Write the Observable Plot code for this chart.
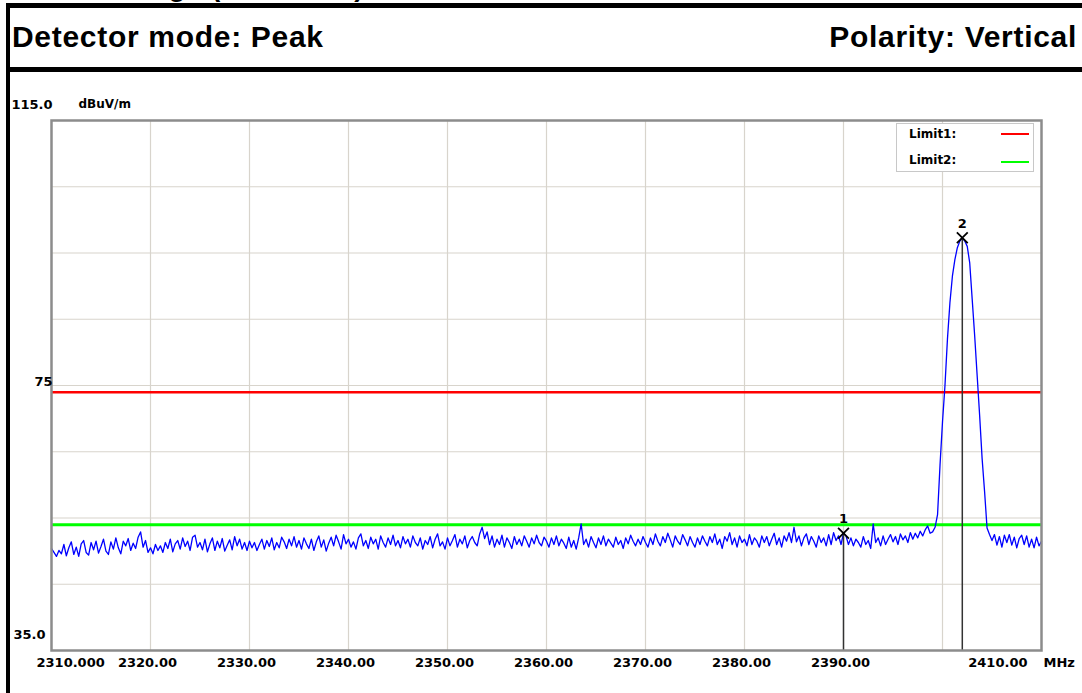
<!DOCTYPE html>
<html>
<head>
<meta charset="utf-8">
<script src="https://cdn.jsdelivr.net/npm/d3@7"></script>
<script src="https://cdn.jsdelivr.net/npm/@observablehq/plot@0.6"></script>
<style>
  html, body { margin: 0; padding: 0; background: #fff; }
  #page { position: relative; width: 1082px; height: 693px; overflow: hidden; background: #fff; font-family: "Liberation Sans", Arial, sans-serif; }
  .hdr { position: absolute; font-weight: bold; font-size: 30px; line-height: 30px; letter-spacing: 0.7px; color: #000; white-space: nowrap; }
  .bar { position: absolute; background: #000; z-index: 5; }
  #chart { position: absolute; left: 0; top: 72px; }
  #legend { position: absolute; left: 896px; top: 123px; width: 136px; height: 47px; border: 1px solid #c8c8c8; background: #fff; z-index: 4;
            font-family: "DejaVu Sans", sans-serif; font-weight: bold; font-size: 12px; }
  #legend .row { position: absolute; left: 12px; }
  #legend .sw { position: absolute; left: 104px; width: 28px; height: 2px; }
</style>
</head>
<body>
<div id="page">
  <div class="hdr" style="left:50px; top:-27px; font-size:28px; line-height:28px;">Band Edge (2402 MHz)</div>
  <div class="hdr" style="left:12px; top:22px;">Detector mode: Peak</div>
  <div class="hdr" style="right:5px; top:22px;">Polarity: Vertical</div>
  <div id="chart"></div>
  <div id="legend"></div>
  <div class="bar" style="left:6px; top:3px; width:1076px; height:5px;"></div>
  <div class="bar" style="left:6px; top:67px; width:1076px; height:5px;"></div>
  <div class="bar" style="left:6px; top:3px; width:4px; height:690px;"></div>
</div>
<script>
// ---- data ----
const freqStart = 2310;      // MHz, first sweep point
const freqStep = 0.25;       // MHz between sweep points
const levels = [
  50.4, 49.8, 49.2, 50.1, 49.6, 51.0, 49.3, 50.5, 51.4, 49.5, 50.6, 49.2, 51.1, 51.6, 49.8, 49.4, 51.3, 50.2, 51.5, 49.7,
  50.7, 51.8, 50.0, 49.5, 51.4, 50.3, 52.0, 50.5, 49.6, 51.5, 50.8, 51.9, 50.1, 51.2, 50.4, 52.1, 52.9, 50.6, 51.6, 49.8,
  50.5, 49.6, 51.0, 50.1, 50.8, 49.8, 51.3, 50.4, 51.8, 49.9, 51.1, 51.6, 50.3, 52.0, 50.7, 51.5, 50.1, 52.1, 52.4, 50.6,
  51.3, 50.2, 51.8, 49.9, 51.1, 52.0, 50.1, 51.5, 50.5, 51.9, 50.0, 50.9, 51.7, 50.2, 52.2, 50.8, 51.8, 50.3, 51.3, 50.1,
  51.5, 50.5, 51.3, 50.1, 51.0, 51.8, 50.3, 51.6, 50.7, 52.0, 50.2, 51.3, 50.5, 52.1, 51.4, 50.4, 51.8, 50.8, 52.2, 50.6,
  51.6, 50.3, 52.0, 51.1, 50.4, 51.8, 50.1, 51.4, 52.3, 50.6, 51.7, 50.0, 51.2, 52.1, 50.8, 52.4, 51.4, 50.3, 52.5, 51.1,
  51.8, 50.6, 51.4, 50.3, 52.0, 52.6, 50.8, 51.6, 50.4, 52.1, 51.1, 51.8, 50.3, 52.3, 51.3, 50.6, 52.0, 51.0, 52.4, 50.8,
  51.6, 50.5, 52.2, 51.1, 51.8, 50.6, 52.3, 51.3, 50.8, 52.0, 50.3, 51.6, 51.0, 52.2, 50.5, 51.8, 52.6, 50.8, 51.4, 50.3,
  52.0, 50.8, 51.6, 52.5, 50.6, 51.8, 51.1, 52.3, 50.5, 51.6, 52.2, 51.3, 50.8, 52.6, 53.6, 51.9, 52.9, 51.0, 52.3, 50.6,
  51.8, 51.0, 52.4, 50.6, 52.0, 51.3, 50.4, 52.2, 51.0, 51.8, 50.8, 52.3, 51.5, 50.6, 52.0, 51.1, 52.4, 51.3, 50.8, 52.1,
  51.5, 50.6, 52.0, 51.0, 52.3, 50.8, 51.8, 51.2, 50.4, 52.1, 50.6, 51.6, 50.3, 52.0, 54.1, 51.0, 51.8, 50.6, 52.2, 51.3,
  50.5, 52.0, 51.0, 52.3, 50.8, 51.8, 51.2, 50.6, 52.1, 51.0, 51.6, 50.4, 52.0, 51.1, 52.4, 51.5, 50.8, 51.8, 51.0, 52.2,
  51.3, 50.6, 52.0, 51.0, 52.6, 51.5, 50.8, 52.2, 51.3, 52.7, 51.7, 50.6, 52.3, 51.5, 51.0, 52.5, 51.7, 50.8, 52.2, 51.3,
  50.6, 52.0, 51.0, 52.3, 51.5, 50.8, 52.2, 51.3, 52.6, 51.0, 51.8, 50.4, 52.2, 51.5, 52.8, 51.0, 52.0, 50.6, 52.3, 51.3,
  51.8, 50.8, 52.5, 51.0, 52.0, 51.5, 50.6, 52.3, 51.3, 52.2, 50.8, 51.8, 52.7, 51.0, 52.0, 50.6, 52.3, 51.5, 52.8, 51.3,
  53.6, 51.4, 52.3, 50.8, 52.0, 52.6, 51.0, 52.2, 51.5, 50.6, 52.3, 51.3, 52.0, 50.8, 52.5, 51.0, 52.8, 51.6, 52.3, 51.0,
  52.7, 52.3, 51.0, 52.0, 50.8, 51.8, 51.3, 50.6, 52.2, 51.0, 51.6, 50.4, 54.1, 51.3, 52.0, 50.8, 52.3, 51.0, 51.8, 52.5,
  51.4, 52.2, 51.0, 52.6, 51.7, 52.3, 51.3, 52.8, 51.8, 52.7, 52.0, 53.0, 52.3, 53.2, 53.8, 52.7, 52.9, 53.6, 55.5, 63.0,
  69.5, 75.0, 82.0, 87.5, 91.5, 94.0, 95.8, 96.8, 97.3, 96.8, 96.0, 93.5, 88.0, 82.5, 76.5, 70.5, 64.0, 59.0, 53.5, 52.5,
  51.6, 52.5, 50.9, 52.2, 50.6, 52.4, 51.3, 52.5, 50.9, 52.1, 50.5, 51.9, 52.4, 51.0, 52.3, 50.6, 51.8, 50.5, 52.1, 50.8,
  51.5
];
const xDomain = [2310, 2410];
const yDomain = [35, 115];
const xGrid = [2320, 2330, 2340, 2350, 2360, 2370, 2380, 2390, 2400];
const yGrid = [45, 55, 65, 75, 85, 95, 105];
const xTickValues = [2320, 2330, 2340, 2350, 2360, 2370, 2380, 2390];
const xTickLabels = ["2320.00", "2330.00", "2340.00", "2350.00", "2360.00", "2370.00", "2380.00", "2390.00"];
const xStartLabel = "2310.000";
const xEndLabel = "2410.00";
const xUnit = "MHz";
const yUnit = "dBuV/m";
const limitNames = ["Limit1:", "Limit2:"];
const limitValues = [74, 54];
const limitColors = ["#ff0000", "#00ff00"];
const markerIds = ["1", "2"];
const markerFreqs = [2390.0, 2402.0];
const markerLevels = [52.7, 97.3];

// ---- build ----
const trace = levels.map((v, i) => ({f: freqStart + i * freqStep, v}));
const markers = markerIds.map((id, i) => ({id, f: markerFreqs[i], v: markerLevels[i]}));
const xTicks = xTickValues.map((v, i) => ({v, label: xTickLabels[i]}));

const txt = {fontFamily: "DejaVu Sans, sans-serif", fontWeight: "bold", fontSize: 13, fill: "#000"};

const chart = Plot.plot({
  width: 1082,
  height: 621,
  marginTop: 48,
  marginBottom: 43,
  marginLeft: 51,
  marginRight: 41,
  style: {background: "transparent", fontFamily: "DejaVu Sans, sans-serif"},
  x: {domain: xDomain, axis: null},
  y: {domain: yDomain, axis: null},
  marks: [
    Plot.ruleX(xGrid, {stroke: "#d8d4cc", strokeWidth: 1.2}),
    Plot.ruleY(yGrid, {stroke: "#d8d4cc", strokeWidth: 1.2}),
    Plot.ruleY([limitValues[0]], {stroke: limitColors[0], strokeWidth: 2.5}),
    Plot.ruleY([limitValues[1]], {stroke: limitColors[1], strokeWidth: 3}),
    Plot.line(trace, {x: "f", y: "v", stroke: "#0000ff", strokeWidth: 1.3}),
    Plot.ruleX(markers, {x: "f", y1: "v", y2: yDomain[0], stroke: "#333", strokeWidth: 1.5}),
    Plot.dot(markers, {x: "f", y: "v", symbol: "times", r: 5, stroke: "#000", strokeWidth: 1.8}),
    Plot.text(markers, {x: "f", y: "v", text: "id", dy: -14, fontSize: 13, fontWeight: "bold", fontFamily: "DejaVu Sans, sans-serif", fill: "#000"}),
    Plot.frame({stroke: "#8c8c8c", strokeWidth: 2.5}),
    // x tick labels
    Plot.text(xTicks, {x: "v", y: yDomain[0], text: "label", dy: 12, dx: -3, ...txt}),
    Plot.text([xStartLabel], {x: xDomain[0], y: yDomain[0], text: d => d, dy: 12, dx: -15, textAnchor: "start", ...txt}),
    Plot.text([xEndLabel], {x: xDomain[1], y: yDomain[0], text: d => d, dy: 12, dx: -14, textAnchor: "end", ...txt}),
    Plot.text([xUnit], {x: xDomain[1], y: yDomain[0], text: d => d, dy: 12, dx: 2, textAnchor: "start", ...txt}),
    // y labels
    Plot.text(["115.0"], {x: xDomain[0], y: yDomain[1], text: d => d, dy: -16, dx: 1, textAnchor: "end", ...txt}),
    Plot.text(["75"], {x: xDomain[0], y: 75, text: d => d, dy: -4, dx: 1, textAnchor: "end", ...txt}),
    Plot.text(["35.0"], {x: xDomain[0], y: yDomain[0], text: d => d, dy: -16, dx: -6, textAnchor: "end", ...txt}),
    Plot.text([yUnit], {x: xDomain[0], y: yDomain[1], text: d => d, dy: -16, dx: 27, textAnchor: "start", fontSize: 12, fontFamily: "DejaVu Sans, sans-serif", fontWeight: "bold", fill: "#000"})
  ]
});
document.getElementById("chart").appendChild(chart);

// legend
const legend = document.getElementById("legend");
limitNames.forEach((name, i) => {
  const row = document.createElement("div");
  row.className = "row";
  row.style.top = (3 + i * 26) + "px";
  row.textContent = name;
  legend.appendChild(row);
  const sw = document.createElement("div");
  sw.className = "sw";
  sw.style.top = (9 + i * 28) + "px";
  sw.style.background = limitColors[i];
  legend.appendChild(sw);
});
</script>
</body>
</html>
